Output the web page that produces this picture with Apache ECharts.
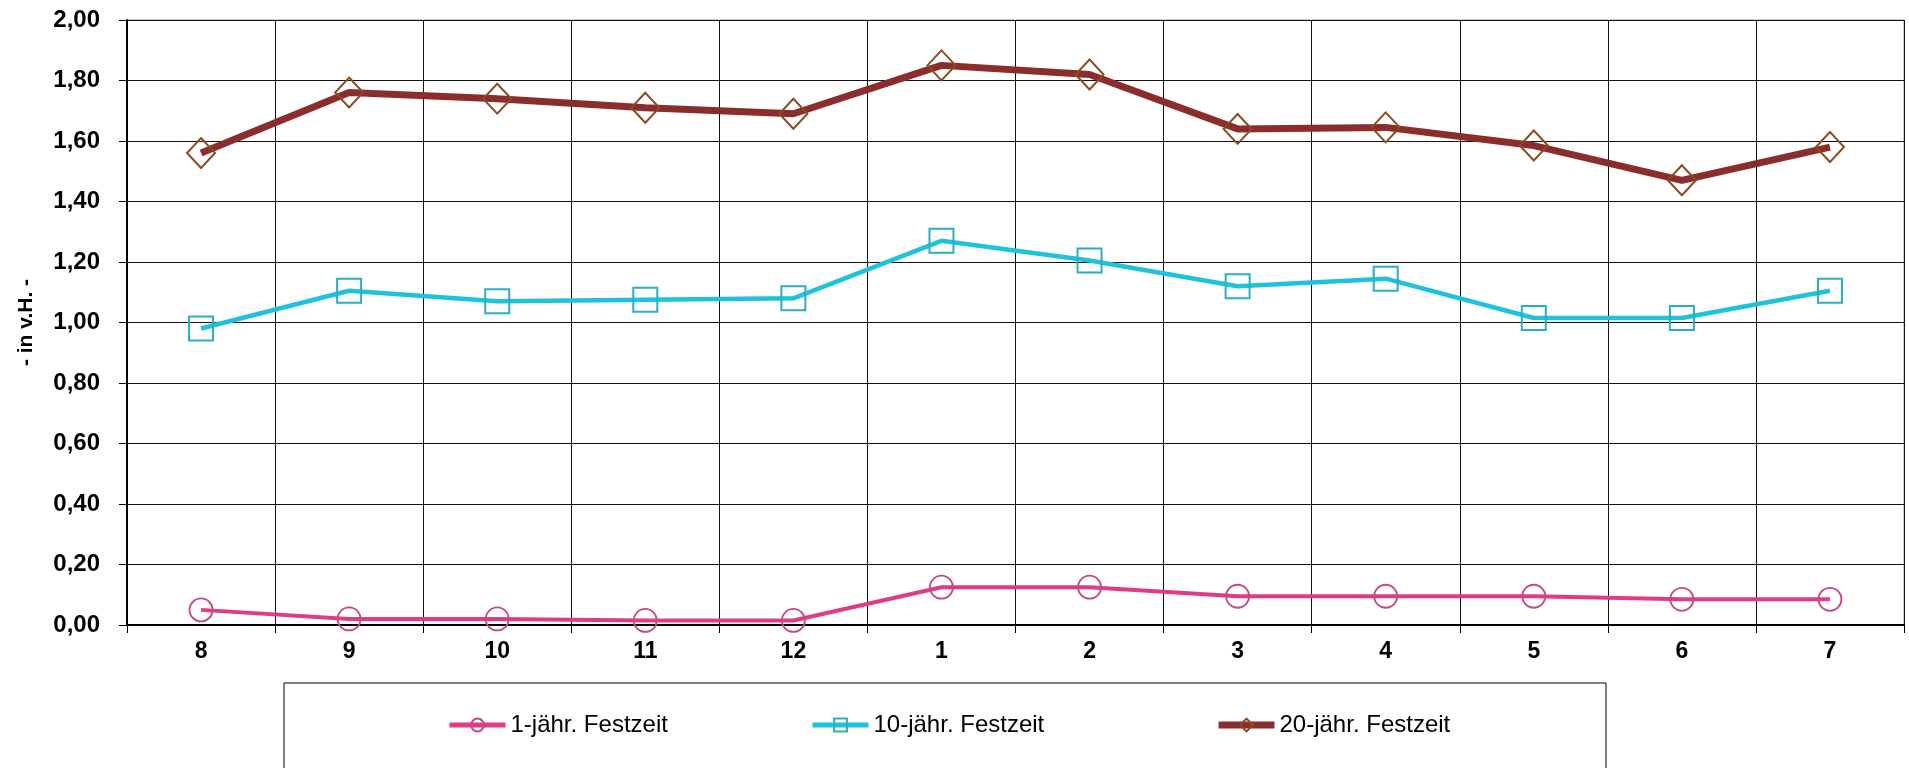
<!DOCTYPE html>
<html>
<head>
<meta charset="utf-8">
<script src="https://cdn.jsdelivr.net/npm/echarts@6/dist/echarts.min.js"></script>
<style>
html,body{margin:0;padding:0;background:#fff;}
#c{width:1909px;height:768px;}
</style>
</head>
<body>
<div id="c"></div>
<script>
const categories = ['8','9','10','11','12','1','2','3','4','5','6','7'];
const seriesNames = ['1-jähr. Festzeit','10-jähr. Festzeit','20-jähr. Festzeit'];
const values1 = [0.05,0.02,0.02,0.015,0.015,0.125,0.125,0.095,0.095,0.095,0.085,0.085];
const values10 = [0.98,1.105,1.07,1.075,1.08,1.27,1.205,1.12,1.145,1.015,1.015,1.105];
const values20 = [1.56,1.76,1.74,1.71,1.69,1.85,1.82,1.64,1.645,1.585,1.47,1.58];
const yTitle = '- in v.H. -';

const chart = echarts.init(document.getElementById('c'), null, {renderer:'canvas'});
const FONT = '"Liberation Sans", Arial, sans-serif';
const legendText = {fontFamily: FONT, fontSize: 24, color: '#000'};
function mkLegend(name, left, lw){
  return {data:[name], left:left, top:713, padding:0, itemWidth:56, itemHeight:16, itemGap:2,
    lineStyle:{width:lw}, textStyle: legendText, selectedMode:false};
}
chart.setOption({
  animation:false,
  backgroundColor:'#fff',
  grid:{left:127, top:20, right:5, bottom:143, show:true, borderColor:'#999', borderWidth:1, backgroundColor:'transparent'},
  graphic:[{type:'rect', z:-1, shape:{x:284, y:683, width:1322, height:120}, style:{fill:'#fff', stroke:'#000', lineWidth:1}}],
  legend:[mkLegend(seriesNames[0],447,5), mkLegend(seriesNames[1],810,5), mkLegend(seriesNames[2],1215,7)],
  xAxis:{type:'category', data:categories, boundaryGap:true,
    axisLine:{lineStyle:{color:'#000', width:2}},
    axisTick:{show:true, length:8, lineStyle:{color:'#000', width:1}},
    axisLabel:{fontFamily:FONT, fontWeight:'bold', fontSize:23, color:'#000', margin:15},
    splitLine:{show:true, lineStyle:{color:'#111', width:1}}},
  yAxis:{type:'value', min:0, max:2, interval:0.2,
    name:yTitle, nameLocation:'middle', nameGap:90, nameRotate:90,
    nameTextStyle:{fontFamily:FONT, fontWeight:'bold', fontSize:21, color:'#000'},
    axisLine:{show:true, lineStyle:{color:'#000', width:2}},
    axisTick:{show:true, length:8, lineStyle:{color:'#000'}},
    axisLabel:{fontFamily:FONT, fontWeight:'bold', fontSize:24, color:'#000', margin:27,
      formatter:v=>v.toFixed(2).replace('.',',')},
    splitLine:{show:true, lineStyle:{color:'#111', width:1}}},
  series:[
    {name:seriesNames[0], type:'line', data:values1, symbol:'circle', symbolSize:23,
      lineStyle:{color:'#E03C86', width:4}, itemStyle:{color:'rgba(255,255,255,0)', borderColor:'#C4488A', borderWidth:1.8}, z:3},
    {name:seriesNames[1], type:'line', data:values10, symbol:'rect', symbolSize:24,
      lineStyle:{color:'#1EC2DA', width:4.5}, itemStyle:{color:'rgba(255,255,255,0)', borderColor:'#2BAFC0', borderWidth:2}, z:4},
    {name:seriesNames[2], type:'line', data:values20, symbol:'diamond', symbolSize:[28,30],
      lineStyle:{color:'#8C2D2D', width:7}, itemStyle:{color:'rgba(255,255,255,0)', borderColor:'#8A4A1E', borderWidth:2}, z:5}
  ]
});
</script>
</body>
</html>
